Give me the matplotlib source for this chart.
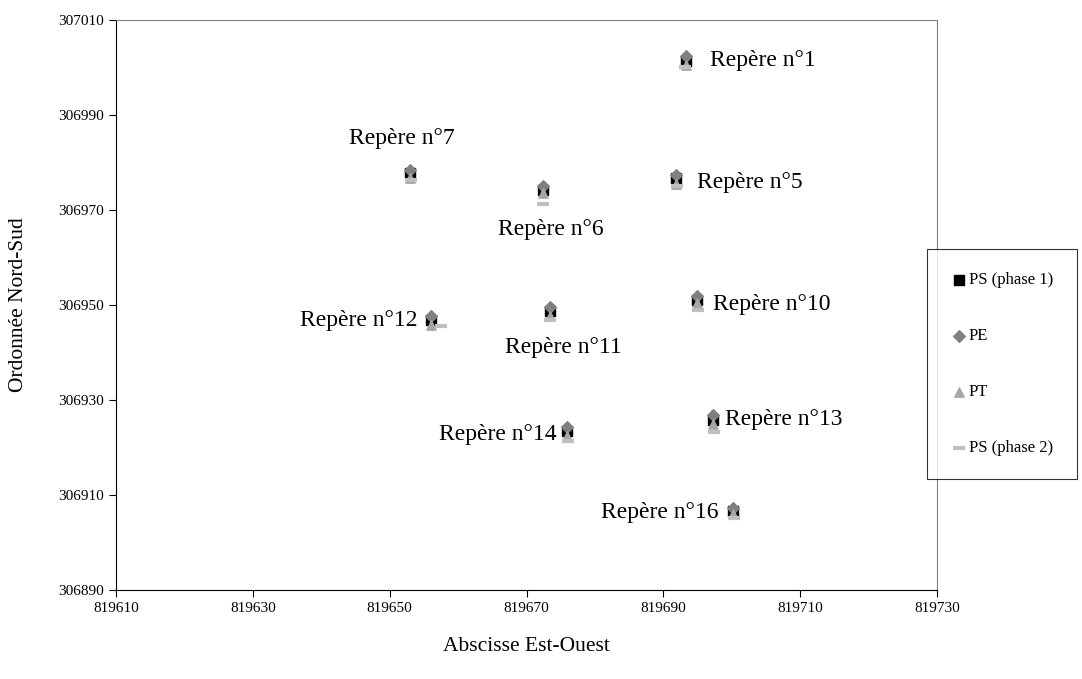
import matplotlib
matplotlib.use('Agg')
import matplotlib.pyplot as plt

plt.rcParams['font.family'] = ['Liberation Serif', 'DejaVu Serif']

# noms des repères
reperes = ['Repère n°1', 'Repère n°7', 'Repère n°6', 'Repère n°5', 'Repère n°12',
           'Repère n°11', 'Repère n°10', 'Repère n°14', 'Repère n°13', 'Repère n°16']

# abscisses (Est-Ouest)
x_ps1 = [819693.3, 819653.0, 819672.4, 819691.8, 819656.0, 819673.4, 819694.9, 819675.9, 819697.3, 819700.2]
x_pe = [819693.3, 819653.0, 819672.4, 819691.8, 819656.0, 819673.4, 819694.9, 819675.9, 819697.3, 819700.2]
x_pt = [819693.3, 819653.0, 819672.4, 819691.8, 819656.0, 819673.4, 819694.9, 819675.9, 819697.3, 819700.2]
x_ps2 = [819693.2, 819653.1, 819672.4, 819692.0, 819657.5, 819673.4, 819695.0, 819676.0, 819697.4, 819700.3]

# ordonnées (Nord-Sud)
y_ps1 = [307001.4, 306977.8, 306974.2, 306976.7, 306946.8, 306948.7, 306951.1, 306923.5, 306925.8, 306906.6]
y_pe = [307002.4, 306978.4, 306975.1, 306977.4, 306947.7, 306949.6, 306951.9, 306924.3, 306926.8, 306907.3]
y_pt = [307000.5, 306976.7, 306973.6, 306975.5, 306945.8, 306947.7, 306950.4, 306922.4, 306924.9, 306906.0]
y_ps2 = [307000.1, 306976.3, 306971.3, 306975.1, 306945.6, 306946.8, 306948.9, 306921.4, 306923.3, 306905.2]

# décalage des étiquettes (pixels) et alignement
decalages = [(24, 0), (-8, 34), (8, -40), (21, -5), (-13, 0),
             (14, -36), (16, -5), (-10, -4), (12, 0), (-15, -1)]
alignements = ['left', 'center', 'center', 'left', 'right',
               'center', 'left', 'right', 'left', 'right']

fig = plt.figure(figsize=(10.82, 6.79), dpi=100)
ax = fig.add_axes([0.1072, 0.131, 0.7588, 0.840])

ax.scatter(x_ps1, y_ps1, marker='s', s=45, color='black', label='PS (phase 1)', zorder=3)
ax.scatter(x_pe, y_pe, marker='D', s=35, color='#808080', label='PE', zorder=4)
ax.scatter(x_pt, y_pt, marker='^', s=45, color='#A6A6A6', label='PT', zorder=5)
ax.scatter(x_ps2, y_ps2, marker='_', s=80, linewidths=3, color='#BFBFBF', label='PS (phase 2)', zorder=6)

for i, nom in enumerate(reperes):
    ax.annotate(nom, (x_ps1[i], y_ps1[i]), xytext=decalages[i], textcoords='offset pixels',
                ha=alignements[i], va='center', fontsize=17)

ax.set_xlim(819610, 819730)
ax.set_ylim(306890, 307010)
ax.set_xticks(range(819610, 819731, 20))
ax.set_yticks(range(306890, 307011, 20))
ax.tick_params(direction='out', length=5, labelsize=11)
ax.spines['top'].set_color('#808080')
ax.spines['right'].set_color('#808080')

ax.set_xlabel('Abscisse Est-Ouest', fontsize=15.5, labelpad=16)
ax.set_ylabel('Ordonnée Nord-Sud', fontsize=15.5, labelpad=22)

leg = fig.legend(loc='center left', bbox_to_anchor=(0.857, 0.464), fontsize=12,
                 frameon=True, fancybox=False, edgecolor='black', labelspacing=2.4,
                 handletextpad=0.1, handlelength=1.0, borderpad=1.4, borderaxespad=0)
leg.get_frame().set_linewidth(0.8)

fig.savefig('out.png', dpi=100)
